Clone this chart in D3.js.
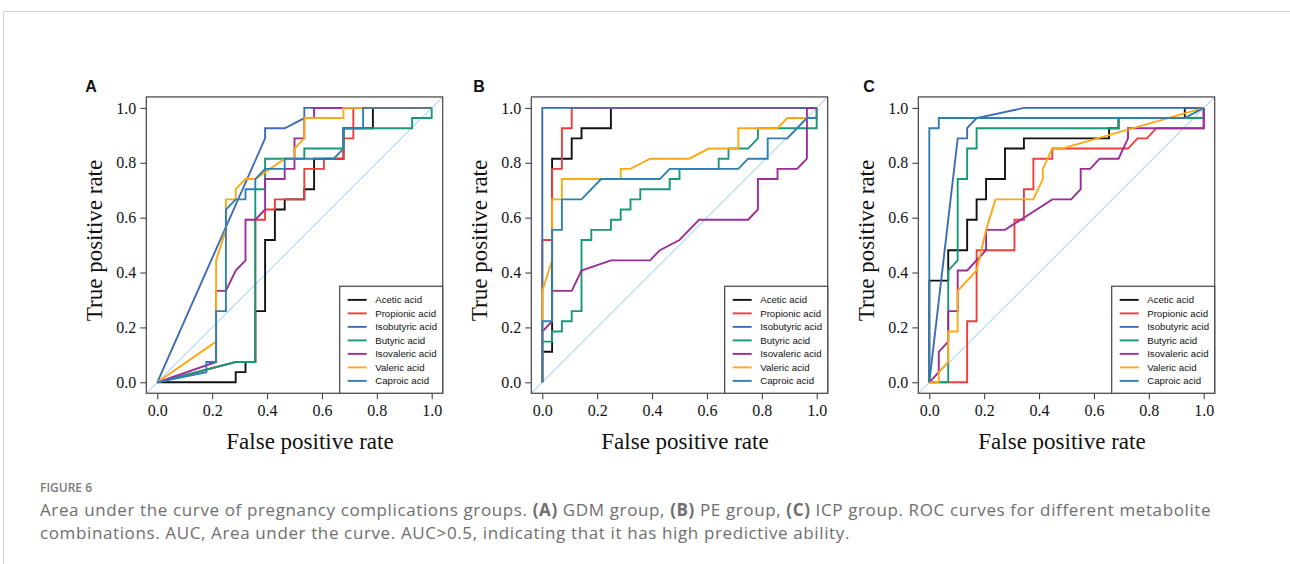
<!DOCTYPE html>
<html>
<head>
<meta charset="utf-8">
<script src="https://cdn.jsdelivr.net/npm/d3@7/dist/d3.min.js"></script>
<style>
  body { margin: 0; background: #fff; }
  svg { display: block; }
</style>
</head>
<body>
<div id="chart"></div>
<script>
const W = 1290, H = 564;

// series names and colours (legend order = draw order)
const acids = ["Acetic acid", "Propionic acid", "Isobutyric acid", "Butyric acid",
               "Isovaleric acid", "Valeric acid", "Caproic acid"];
const colors = ["#111111", "#f03c3c", "#3c6db4", "#16987a", "#9c2c98", "#ffa812", "#2e7fb2"];

const ticks = [0, 0.2, 0.4, 0.6, 0.8, 1.0];

// ROC steps as [false positives, true positives] counts
// A: GDM group (28 negatives, 27 positives)
const aAcetic = [[0,0],[8,0],[8,1],[9,1],[9,2],[10,2],[10,7],[11,7],[11,14],[12,14],[12,17],[13,17],[13,18],[15,18],[15,19],[16,19],[16,22],[19,22],[19,25],[22,25],[22,27],[28,27]];
const aPropionic = [[0,0],[8,2],[10,2],[10,16],[11,16],[11,17],[12,17],[12,18],[15,18],[15,21],[17,21],[17,22],[19,22],[19,24],[20,24],[20,27],[28,27]];
const aIsobutyric = [[0,0],[11,24],[11,25],[13,25],[15,26],[15,27],[28,27]];
const aButyric = [[0,0],[8,2],[10,2],[10,19],[11,19],[11,22],[15,22],[15,23],[19,23],[19,25],[26,25],[26,26],[28,26],[28,27]];
const aIsovaleric = [[0,0],[6,2],[6,9],[7,9],[8,11],[9,12],[9,16],[10,16],[11,17],[11,20],[13,20],[13,21],[14,21],[14,24],[15,24],[15,26],[16,26],[16,27],[28,27]];
const aValeric = [[0,0],[6,4],[6,12],[7,15],[7,18],[8,18],[8,19],[9,20],[10,20],[13,22],[14,22],[14,23],[15,24],[15,26],[19,26],[19,27],[28,27]];
const aCaproic = [[0,0],[5,1],[5,2],[6,2],[6,7],[7,7],[7,17],[8,18],[9,18],[9,19],[10,19],[10,20],[11,21],[13,21],[13,22],[18,22],[19,23],[19,25],[21,25],[21,27],[28,27]];

// B: PE group (28 negatives, 27 positives)
const bAcetic = [[0,0],[0,3],[1,3],[1,22],[3,22],[3,24],[4,24],[4,25],[7,25],[7,27],[28,27]];
const bPropionic = [[0,0],[0,14],[1,14],[1,21],[2,21],[2,25],[3,25],[3,27],[28,27]];
const bIsobutyric = [[0,0],[0,27],[28,27]];
const bButyric = [[0,0],[0,4],[1,4],[1,5],[2,5],[2,6],[3,6],[3,7],[4,7],[4,14],[5,14],[5,15],[7,15],[7,16],[8,16],[8,17],[9,17],[9,18],[10,18],[10,19],[13,19],[13,20],[14,20],[14,21],[18,21],[18,22],[19,22],[19,23],[21,23],[22,24],[22,25],[28,25],[28,27]];
const bIsovaleric = [[0,0],[0,5],[1,6],[1,9],[3,9],[4,11],[7,12],[11,12],[12,13],[14,14],[16,16],[21,16],[22,17],[22,20],[24,20],[24,21],[26,21],[27,22],[27,27],[28,27]];
const bValeric = [[0,0],[0,9],[1,12],[1,18],[2,18],[2,20],[8,20],[8,21],[9,21],[11,22],[15,22],[17,23],[20,23],[20,25],[24,25],[25,26],[28,26],[28,27]];
const bCaproic = [[0,0],[0,6],[1,6],[1,15],[2,15],[2,18],[4,18],[6,20],[12,20],[13,21],[20,21],[21,22],[23,22],[23,24],[25,24],[26,25],[27,26],[28,26],[28,27]];

// C: ICP group (29 negatives, 27 positives)
const cAcetic = [[0,0],[0,10],[2,10],[2,13],[4,13],[4,16],[5,16],[5,18],[6,18],[6,20],[8,20],[8,23],[10,23],[10,24],[19,24],[19,25],[20,25],[20,26],[27,26],[27,27],[29,27]];
const cPropionic = [[0,0],[4,0],[4,6],[5,6],[5,13],[9,13],[9,16],[10,16],[10,19],[11,19],[11,22],[13,22],[13,23],[21,23],[22,24],[23,24],[24,25],[29,25],[29,27]];
const cIsobutyric = [[0,0],[3,24],[4,24],[4,25],[5,26],[10,27],[29,27]];
const cButyric = [[0,0],[2,0],[2,11],[3,12],[3,20],[4,20],[4,23],[5,23],[5,25],[20,25],[20,26],[29,26],[29,27]];
const cIsovaleric = [[0,0],[1,1],[1,3],[2,4],[2,7],[3,7],[3,11],[4,11],[6,13],[6,15],[8,15],[13,18],[15,18],[16,19],[16,21],[17,21],[18,22],[20,22],[21,24],[21,25],[29,25],[29,27]];
const cValeric = [[0,0],[1,0],[1,1],[2,2],[2,5],[3,5],[3,9],[5,11],[6,15],[7,18],[11,18],[12,20],[12,21],[13,23],[14,23],[29,27]];
const cCaproic = [[0,0],[0,25],[1,25],[1,26],[27,26],[29,27]];

const panels = [
  {label: "A", nNeg: 28, nPos: 27, x0: 157.3, letterDx: -72, titleX: 310,
   series: [aAcetic, aPropionic, aIsobutyric, aButyric, aIsovaleric, aValeric, aCaproic]},
  {label: "B", nNeg: 28, nPos: 27, x0: 542.3, letterDx: -69, titleX: 685,
   series: [bAcetic, bPropionic, bIsobutyric, bButyric, bIsovaleric, bValeric, bCaproic]},
  {label: "C", nNeg: 29, nPos: 27, x0: 929.3, letterDx: -66, titleX: 1062,
   series: [cAcetic, cPropionic, cIsobutyric, cButyric, cIsovaleric, cValeric, cCaproic]}
];

const PLOT = 274.4;          // pixels for 0..1
const Y0 = 382.3;            // pixel of tpr = 0
const PAD = 0.04;
const SERIF = "'Liberation Serif', 'Times New Roman', serif";
const SANS = "'Liberation Sans', Arial, sans-serif";

const svg = d3.select("#chart").append("svg")
  .attr("width", W).attr("height", H);

// page frame
svg.append("line").attr("x1", 3.5).attr("x2", W).attr("y1", 11.5).attr("y2", 11.5)
  .attr("stroke", "#cfcfcf").attr("stroke-width", 1);
svg.append("line").attr("x1", 3.5).attr("x2", 3.5).attr("y1", 11.5).attr("y2", H)
  .attr("stroke", "#cfcfcf").attr("stroke-width", 1);

panels.forEach((p, pi) => {
  const x = d3.scaleLinear().domain([-PAD, 1 + PAD])
    .range([p.x0 - PAD * PLOT, p.x0 + (1 + PAD) * PLOT]);
  const y = d3.scaleLinear().domain([-PAD, 1 + PAD])
    .range([Y0 + PAD * PLOT, Y0 - (1 + PAD) * PLOT]);

  const [left, right] = x.range();
  const [bottom, top] = y.range();
  const g = svg.append("g");

  const clipId = "clip" + pi;
  g.append("clipPath").attr("id", clipId).append("rect")
    .attr("x", left).attr("y", top).attr("width", right - left).attr("height", bottom - top);

  // chance line
  g.append("line")
    .attr("x1", x(-PAD)).attr("y1", y(-PAD)).attr("x2", x(1 + PAD)).attr("y2", y(1 + PAD))
    .attr("stroke", "#86c3ea").attr("stroke-width", 1)
    .attr("clip-path", `url(#${clipId})`);

  const line = d3.line()
    .x(d => x(d[0] / p.nNeg))
    .y(d => y(d[1] / p.nPos));

  g.selectAll(".roc").data(p.series).enter().append("path")
    .attr("class", "roc")
    .attr("d", line)
    .attr("fill", "none")
    .attr("stroke", (d, i) => colors[i])
    .attr("stroke-width", 1.9)
    .attr("clip-path", `url(#${clipId})`);

  // axes
  const xAxis = g.append("g")
    .attr("transform", `translate(0,${bottom})`)
    .call(d3.axisBottom(x).tickValues(ticks).tickFormat(d3.format(".1f"))
      .tickSize(6).tickPadding(5).tickSizeOuter(0));
  const yAxis = g.append("g")
    .attr("transform", `translate(${left},0)`)
    .call(d3.axisLeft(y).tickValues(ticks).tickFormat(d3.format(".1f"))
      .tickSize(6).tickPadding(4).tickSizeOuter(0));
  [xAxis, yAxis].forEach(a => {
    a.select(".domain").remove();
    a.selectAll(".tick line").attr("stroke", "#333").attr("stroke-width", 1);
    a.selectAll("text").attr("font-family", SERIF)
      .attr("font-size", 16).attr("fill", "#111");
  });

  // frame
  g.append("rect")
    .attr("x", left).attr("y", top).attr("width", right - left).attr("height", bottom - top)
    .attr("fill", "none").attr("stroke", "#505050").attr("stroke-width", 1.3);

  // axis titles
  g.append("text")
    .attr("x", p.titleX).attr("y", 449)
    .attr("text-anchor", "middle")
    .attr("font-family", SERIF).attr("font-size", 23).attr("fill", "#111")
    .text("False positive rate");
  g.append("text")
    .attr("transform", `translate(${left - 44},240.5) rotate(-90)`)
    .attr("text-anchor", "middle")
    .attr("font-family", SERIF).attr("font-size", 23).attr("fill", "#111")
    .text("True positive rate");

  // panel letter
  g.append("text")
    .attr("x", p.x0 + p.letterDx).attr("y", 92)
    .attr("font-family", SANS)
    .attr("font-weight", "bold").attr("font-size", 16).attr("fill", "#111")
    .text(p.label);

  // legend
  const lw = 103, lh = 107;
  const lg = g.append("g").attr("transform", `translate(${right - lw},${bottom - lh})`);
  lg.append("rect").attr("width", lw).attr("height", lh)
    .attr("fill", "#fff").attr("stroke", "#505050").attr("stroke-width", 1.3);
  acids.forEach((name, i) => {
    const ry = 13.6 + i * 13.5;
    lg.append("line").attr("x1", 8).attr("x2", 27).attr("y1", ry).attr("y2", ry)
      .attr("stroke", colors[i]).attr("stroke-width", 1.9);
    lg.append("text").attr("x", 35.5).attr("y", ry).attr("dy", "0.35em")
      .attr("font-family", SANS)
      .attr("font-size", 9.7).attr("fill", "#111")
      .text(name);
  });
});

// caption
const cap = svg.append("g").attr("font-family", "'Open Sans', 'Noto Sans', sans-serif");
cap.append("text").attr("x", 40).attr("y", 492)
  .attr("font-size", 12).attr("fill", "#7a7a7a").attr("font-weight", 600)
  .text("FIGURE 6");

const capLines = [
  [["Area under the curve of pregnancy complications groups. ", 0], ["(A)", 1], [" GDM group, ", 0],
   ["(B)", 1], [" PE group, ", 0], ["(C)", 1],
   [" ICP group. ROC curves for different metabolite", 0]],
  [["combinations. AUC, Area under the curve. AUC>0.5, indicating that it has high predictive ability.", 0]]
];
capLines.forEach((parts, li) => {
  const t = cap.append("text").attr("x", 40).attr("y", 516 + li * 23)
    .attr("font-size", 17).attr("letter-spacing", 0.62).attr("fill", "#6e6e6e");
  parts.forEach(([s, b]) => {
    t.append("tspan").attr("font-weight", b ? 700 : 400).text(s);
  });
});
</script>
</body>
</html>
